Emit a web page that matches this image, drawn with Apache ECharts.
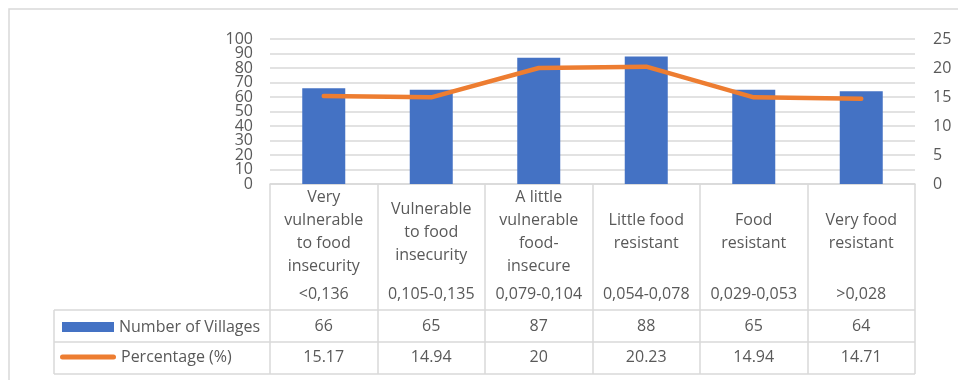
<!DOCTYPE html>
<html>
<head>
<meta charset="utf-8">
<script src="https://cdn.jsdelivr.net/npm/echarts@6/dist/echarts.min.js"></script>
<style>
  html, body { margin: 0; padding: 0; background: #fff; }
  #chart { width: 958px; height: 380px; }
</style>
</head>
<body>
<div id="chart"></div>
<script>
// Food security classes of villages, with index ranges
const categories = [
  'Very\nvulnerable\nto food\ninsecurity',
  'Vulnerable\nto food\ninsecurity',
  'A little\nvulnerable\nfood-\ninsecure',
  'Little food\nresistant',
  'Food\nresistant',
  'Very food\nresistant'
];
const indexRanges = ['<0,136', '0,105-0,135', '0,079-0,104', '0,054-0,078', '0,029-0,053', '>0,028'];
const villages = [66, 65, 87, 88, 65, 64];
const percentage = [15.17, 14.94, 20, 20.23, 14.94, 14.71];

const FONT = 'Open Sans';
const TXT = '#595959';
const LINE = '#d9d9d9';

const chart = echarts.init(document.getElementById('chart'), null, { renderer: 'canvas' });

const tableRow = (labels, margin) => ({
  type: 'category',
  position: 'bottom',
  gridIndex: 0,
  data: categories,
  axisLine: { show: false },
  axisTick: { show: false },
  splitLine: { show: false },
  axisLabel: {
    interval: 0,
    margin: margin,
    verticalAlign: 'middle',
    color: TXT,
    fontFamily: FONT,
    fontSize: 16,
    formatter: (v, i) => String(labels[i])
  }
});

const valueLabel = (margin, formatter) => ({
  margin: margin, color: TXT, fontFamily: FONT, fontSize: 16,
  showMinLabel: true, showMaxLabel: true, hideOverlap: false,
  formatter: formatter
});

// The left scale's labels sit closer than their font height, so the
// tens are split over two coincident axes (multiples of 20 / odd tens)
// to keep the library from dropping any of them.
const evenTens = v => (v % 20 === 0 ? String(v) : '');
const oddTens = v => (v % 20 === 10 ? String(v) : '');

chart.setOption({
  animation: false,
  textStyle: { fontFamily: FONT },
  grid: { left: 270, right: 43, top: 39, height: 145 },
  legend: [
    {
      data: [{ name: 'Number of Villages', icon: 'rect' }],
      left: 62, top: 319, padding: 0,
      itemWidth: 52, itemHeight: 10,
      textStyle: { color: TXT, fontSize: 16, fontFamily: FONT }
    },
    {
      data: [{ name: 'Percentage (%)', icon: 'path://M2.5,0 L53.5,0 A2.5,2.5 0 0 1 53.5,5 L2.5,5 A2.5,2.5 0 0 1 2.5,0 Z' }],
      left: 60, top: 349, padding: 0,
      itemWidth: 56, itemHeight: 5,
      textStyle: { color: TXT, fontSize: 16, fontFamily: FONT }
    }
  ],
  xAxis: [
    {
      type: 'category',
      data: categories,
      axisLine: { show: true, lineStyle: { color: LINE, width: 1.5 } },
      axisTick: { show: true, interval: 0, alignWithLabel: false, length: 190, lineStyle: { color: LINE, width: 1.5 } },
      axisLabel: {
        interval: 0, margin: 48, verticalAlign: 'middle', lineHeight: 23,
        color: TXT, fontFamily: FONT, fontSize: 16
      }
    },
    tableRow(indexRanges, 110),
    tableRow(villages, 142),
    tableRow(percentage, 173)
  ],
  yAxis: [
    {
      type: 'value', min: 0, max: 100, interval: 10, position: 'left',
      axisLine: { show: false }, axisTick: { show: false },
      splitLine: { lineStyle: { color: LINE, width: 1.5 } },
      axisLabel: valueLabel(17, evenTens)
    },
    {
      type: 'value', min: 0, max: 100, interval: 10, position: 'left',
      axisLine: { show: false }, axisTick: { show: false },
      splitLine: { show: false },
      axisLabel: valueLabel(17, oddTens)
    },
    {
      type: 'value', min: 0, max: 25, interval: 5, position: 'right',
      axisLine: { show: false }, axisTick: { show: false },
      splitLine: { show: false },
      axisLabel: valueLabel(18)
    }
  ],
  series: [
    {
      name: 'Number of Villages', type: 'bar',
      xAxisIndex: 0, yAxisIndex: 0,
      data: villages, barWidth: 43,
      itemStyle: { color: '#4472C4' }
    },
    {
      name: 'Percentage (%)', type: 'line',
      xAxisIndex: 0, yAxisIndex: 2,
      data: percentage, symbol: 'none',
      itemStyle: { color: '#ED7D31' },
      lineStyle: { color: '#ED7D31', width: 4.5, cap: 'round', join: 'round' }
    }
  ],
  graphic: [
    // chart frame
    { type: 'rect', shape: { x: 9, y: 9, width: 970, height: 400 }, style: { fill: 'none', stroke: LINE, lineWidth: 1.5 }, silent: true },
    // data table rules
    { type: 'line', shape: { x1: 54, y1: 310, x2: 915, y2: 310 }, style: { stroke: LINE, lineWidth: 1.5 } },
    { type: 'line', shape: { x1: 54, y1: 342, x2: 915, y2: 342 }, style: { stroke: LINE, lineWidth: 1.5 } },
    { type: 'line', shape: { x1: 54, y1: 374, x2: 915, y2: 374 }, style: { stroke: LINE, lineWidth: 1.5 } },
    { type: 'line', shape: { x1: 54, y1: 310, x2: 54, y2: 374 }, style: { stroke: LINE, lineWidth: 1.5 } }
  ]
});
</script>
</body>
</html>
